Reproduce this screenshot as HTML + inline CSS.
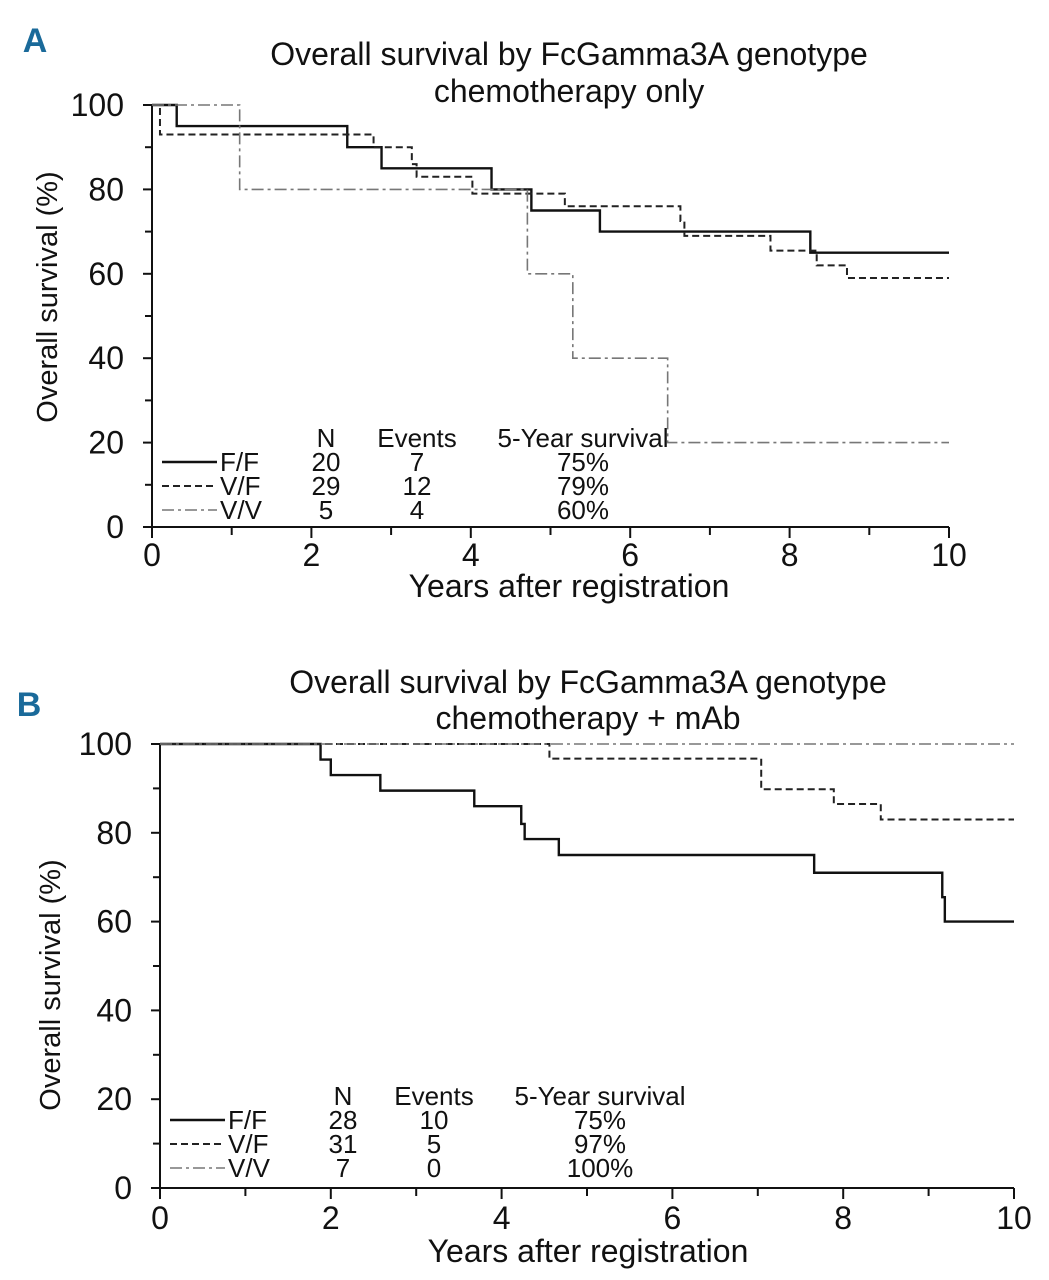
<!DOCTYPE html>
<html><head><meta charset="utf-8"><style>
html,body{margin:0;padding:0;background:#fff}
svg{display:block}
text{font-family:"Liberation Sans Narrow","Liberation Sans",sans-serif;fill:#111}
</style></head><body>
<svg id="chart" width="1049" height="1280" viewBox="0 0 1049 1280" xmlns="http://www.w3.org/2000/svg"></svg>
<script>
// Panel A data (years, percent)
const aFFx=[0,0.31,2.45,2.88,4.26,4.76,5.62,8.26,10];
const aFFy=[100,95,90,85,80,75,70,65,65];
const aVFx=[0,0.1,2.78,3.26,3.32,4.02,5.18,6.63,6.68,7.76,8.34,8.72,10];
const aVFy=[100,93,90,86,83,79,76,72.5,69,65.5,62,59,59];
const aVVx=[0,1.1,4.71,5.28,6.47,10];
const aVVy=[100,80,60,40,20,20];
// Panel B data
const bFFx=[0,1.88,2.0,2.58,3.68,4.23,4.27,4.67,7.66,9.16,9.19,10];
const bFFy=[100,96.5,93,89.5,86,82,78.6,75,71,65.5,60,60];
const bVFx=[0,4.56,7.04,7.89,8.44,10];
const bVFy=[100,96.7,89.8,86.5,83,83];
const bVVx=[0,10];
const bVVy=[100,100];
const xTicks=[0,2,4,6,8,10];
const yTicks=[0,20,40,60,80,100];
const legendNames=["F/F","V/F","V/V"];
const aN=["20","29","5"],aEv=["7","12","4"],aSurv=["75%","79%","60%"];
const bN=["28","31","7"],bEv=["10","5","0"],bSurv=["75%","97%","100%"];

const svg=document.getElementById('chart');
const NS="http://www.w3.org/2000/svg";
function el(tag,attrs,parent){const e=document.createElementNS(NS,tag);for(const k in attrs)e.setAttribute(k,attrs[k]);(parent||svg).appendChild(e);return e;}
function txt(s,x,y,size,anchor,parent){const t=el('text',{x:x,y:y,'font-size':size,'text-anchor':anchor||'middle'},parent);t.textContent=s;return t;}
const styles=[{stroke:'#111','stroke-width':2.4},{stroke:'#222','stroke-width':2,'stroke-dasharray':'7,4'},{stroke:'#777','stroke-width':1.6,'stroke-dasharray':'12,4,3,4'}];

function panel(p){
  const g=el('g',{});
  
  
  const X=v=>p.x0+(p.x1-p.x0)*v/10, Y=v=>p.y0+(p.y100-p.y0)*v/100;
  const L=el('text',{x:p.lx,y:p.ly,'font-size':34,'font-weight':'bold','text-anchor':'middle',style:'fill:#1a6a9a;font-family:"Liberation Sans",sans-serif'},g);
  L.textContent=p.letter;
  const t1=txt(p.t1,p.tx,p.ty1,32,'middle',g);
  const t2=txt(p.t2,p.tx,p.ty2,32,'middle',g);
  // axes
  const ax=el('path',{d:`M${X(0)},${Y(100)}V${Y(0)}H${X(10)}`,stroke:'#111','stroke-width':2,fill:'none'},g);
  
  for(let v=0;v<=100;v+=10){el('line',{x1:X(0)-(v%20?7:9),x2:X(0),y1:Y(v),y2:Y(v),stroke:'#111','stroke-width':2},g);}
  for(let v=0;v<=10;v++){el('line',{x1:X(v),x2:X(v),y1:Y(0),y2:Y(0)+(v%2?8:11),stroke:'#111','stroke-width':2},g);}
  yTicks.forEach(v=>{const t=txt(String(v),p.ylx,Y(v)+11,32,'end',g);});
  xTicks.forEach(v=>{const t=txt(String(v),X(v),p.xly,32,'middle',g);});
  const xt=txt('Years after registration',p.tx,p.xty,32,'middle',g);
  const yt=el('text',{x:0,y:0,'font-size':29,'text-anchor':'middle',transform:`translate(${p.ytx},${p.yty}) rotate(-90)`},g);yt.textContent='Overall survival (%)';
  
  // series
  p.series.forEach((s,i)=>{
    let d=`M${X(s[0][0])},${Y(s[1][0])}`;
    for(let k=1;k<s[0].length;k++){d+=`H${X(s[0][k])}V${Y(s[1][k])}`;}
    const path=el('path',Object.assign({d:d,fill:'none'},styles[i]),g);
    
    
  });
  // legend
  const lg=el('g',{},g);
  const lh=[['N',p.cN],['Events',p.cE],['5-Year survival',p.cS]];
  lh.forEach(h=>txt(h[0],h[1],p.legY,26,'middle',lg));
  legendNames.forEach((n,i)=>{
    const y=p.legY+24*(i+1);
    el('line',Object.assign({x1:p.lsx,x2:p.lsx+55,y1:y-9,y2:y-9},styles[i]),lg);
    txt(n,p.lsx+58,y,26,'start',lg);
    txt(p.N[i],p.cN,y,26,'middle',lg);
    txt(p.E[i],p.cE,y,26,'middle',lg);
    txt(p.S[i],p.cS,y,26,'middle',lg);
  });
}
panel({name:'panel-a',letter:'A',lx:35,ly:52,t1:'Overall survival by FcGamma3A genotype',t2:'chemotherapy only',tx:569,ty1:65,ty2:102,
  x0:152,x1:949,y0:527,y100:105,ylx:124,xly:566,xty:597,ytx:57,yty:297,
  series:[[aFFx,aFFy],[aVFx,aVFy],[aVVx,aVVy]],legY:447,lsx:162,cN:326,cE:417,cS:583,N:aN,E:aEv,S:aSurv});
panel({name:'panel-b',letter:'B',lx:29,ly:716,t1:'Overall survival by FcGamma3A genotype',t2:'chemotherapy + mAb',tx:588,ty1:693,ty2:729,
  x0:160,x1:1014,y0:1188,y100:744,ylx:132,xly:1229,xty:1262,ytx:60,yty:985,
  series:[[bFFx,bFFy],[bVFx,bVFy],[bVVx,bVVy]],legY:1105,lsx:170,cN:343,cE:434,cS:600,N:bN,E:bEv,S:bSurv});
</script>
</body></html>
